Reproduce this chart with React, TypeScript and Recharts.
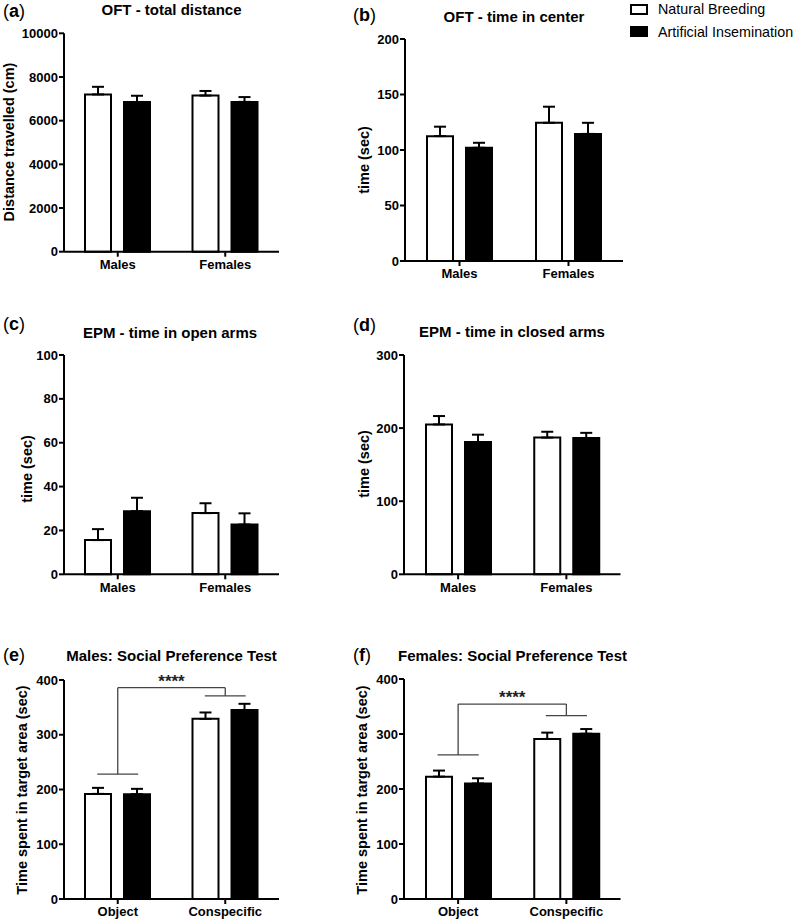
import React from "react"
import { Bar, BarChart, ErrorBar, ReferenceLine, XAxis, YAxis } from "recharts"

const groups = ["Natural Breeding", "Artificial Insemination"]
const sexes = ["Males", "Females"]
const zones = ["Object", "Conspecific"]

// (a) OFT - total distance (cm)
const distNB = [7200, 7150]
const distNBsem = [350, 210]
const distAI = [6850, 6860]
const distAIsem = [290, 220]
const distTicks = [0, 2000, 4000, 6000, 8000, 10000]

// (b) OFT - time in center (sec)
const centerNB = [112.5, 124.5]
const centerNBsem = [8.5, 14.5]
const centerAI = [102, 114.5]
const centerAIsem = [4.5, 10]
const centerTicks = [0, 50, 100, 150, 200]

// (c) EPM - time in open arms (sec)
const openNB = [15.6, 27.9]
const openNBsem = [5, 4.5]
const openAI = [28.8, 22.7]
const openAIsem = [6.1, 5.1]
const openTicks = [0, 20, 40, 60, 80, 100]

// (d) EPM - time in closed arms (sec)
const closedNB = [205, 187]
const closedNBsem = [11.5, 8]
const closedAI = [181, 186.5]
const closedAIsem = [10, 7]
const closedTicks = [0, 100, 200, 300]

// (e) males social preference (sec)
const spMaleNB = [192, 329]
const spMaleNBsem = [11, 11.7]
const spMaleAI = [191.5, 345]
const spMaleAIsem = [9.7, 11.5]

// (f) females social preference (sec)
const spFemNB = [222.5, 291]
const spFemNBsem = [11, 11.5]
const spFemAI = [210, 300.5]
const spFemAIsem = [9.5, 8.5]
const spTicks = [0, 100, 200, 300, 400]

// significance brackets: [object level, top, conspecific level]
const maleBracket = [228, 386, 371]
const femaleBracket = [262, 354.5, 333.5]
const stars = "****"

const font = '"Liberation Sans", Arial, Helvetica, sans-serif'
const W = 797
const H = 921

function rows(cats: string[], nb: number[], nbSem: number[], ai: number[], aiSem: number[]) {
  return cats.map((cat, i) => ({
    cat,
    nb: nb[i],
    nbErr: [0, nbSem[i]],
    ai: ai[i],
    aiErr: [0, aiSem[i]],
  }))
}

const panels = [
  {
    letter: "a", title: "OFT - total distance", yLabel: "Distance travelled (cm)",
    data: rows(sexes, distNB, distNBsem, distAI, distAIsem), ticks: distTicks,
    box: { l: 64, r: 279, t: 33.3, b: 251.7 }, titleAt: [171.5, 9], letterAt: [3, 11], yLabelAt: [9, 142],
  },
  {
    letter: "b", title: "OFT - time in center", yLabel: "time (sec)",
    data: rows(sexes, centerNB, centerNBsem, centerAI, centerAIsem), ticks: centerTicks,
    box: { l: 405, r: 623, t: 39, b: 261 }, titleAt: [514, 16], letterAt: [353, 15], yLabelAt: [364, 160],
  },
  {
    letter: "c", title: "EPM - time in open arms", yLabel: "time (sec)",
    data: rows(sexes, openNB, openNBsem, openAI, openAIsem), ticks: openTicks,
    box: { l: 64, r: 279, t: 355, b: 574.3 }, titleAt: [170, 332], letterAt: [3, 324], yLabelAt: [27, 469],
  },
  {
    letter: "d", title: "EPM - time in closed arms", yLabel: "time (sec)",
    data: rows(sexes, closedNB, closedNBsem, closedAI, closedAIsem), ticks: closedTicks,
    box: { l: 404, r: 620.5, t: 355, b: 574.3 }, titleAt: [512, 331], letterAt: [353, 325], yLabelAt: [364, 464],
  },
  {
    letter: "e", title: "Males: Social Preference Test", yLabel: "Time spent in target area (sec)",
    data: rows(zones, spMaleNB, spMaleNBsem, spMaleAI, spMaleAIsem), ticks: spTicks,
    box: { l: 64, r: 279, t: 680, b: 899 }, titleAt: [171.5, 655], letterAt: [3, 655], yLabelAt: [22, 790],
    bracket: maleBracket,
  },
  {
    letter: "f", title: "Females: Social Preference Test", yLabel: "Time spent in target area (sec)",
    data: rows(zones, spFemNB, spFemNBsem, spFemAI, spFemAIsem), ticks: spTicks,
    box: { l: 404, r: 620.5, t: 679, b: 899 }, titleAt: [512.5, 655], letterAt: [353, 655], yLabelAt: [362, 790],
    bracket: femaleBracket,
  },
]

const tickStyle = { fontSize: 13, fontWeight: 700, fill: "#000", fontFamily: font }
const axisStroke = { stroke: "#000", strokeWidth: 2 }
const bracketStroke = "#444"

// x given as a fraction of the plot width (two categories -> centres at 0.25 and 0.75)
function bracketSegments(b: number[]) {
  const [lo, top, hi] = b
  return [
    [{ x: 0.155, y: lo }, { x: 0.345, y: lo }],
    [{ x: 0.25, y: lo }, { x: 0.25, y: top }],
    [{ x: 0.25, y: top }, { x: 0.75, y: top }],
    [{ x: 0.75, y: top }, { x: 0.75, y: hi }],
    [{ x: 0.655, y: hi }, { x: 0.845, y: hi }],
  ]
}

function Panel({ p }: { p: (typeof panels)[number] }) {
  const { box } = p
  const yMax = p.ticks[p.ticks.length - 1]
  const [lx, ly] = p.yLabelAt
  return (
    <div style={{ position: "absolute", left: 0, top: 0 }}>
      <BarChart
        width={W}
        height={H}
        data={p.data}
        barSize={26}
        barGap={13}
        margin={{ left: box.l - 60, right: W - box.r, top: box.t, bottom: H - box.b - 20 }}
      >
        <XAxis
          dataKey="cat"
          height={20}
          tick={tickStyle}
          tickSize={5}
          tickMargin={3}
          tickLine={axisStroke}
          axisLine={axisStroke}
          interval={0}
        />
        <XAxis xAxisId="pos" type="number" domain={[0, 1]} allowDataOverflow hide />
        <YAxis
          width={60}
          domain={[0, yMax]}
          ticks={p.ticks}
          interval={0}
          tick={tickStyle}
          tickSize={5}
          tickMargin={1}
          tickLine={axisStroke}
          axisLine={axisStroke}
          label={() => (
            <text
              x={lx}
              y={ly}
              transform={`rotate(-90 ${lx} ${ly})`}
              textAnchor="middle"
              dominantBaseline="central"
              fontSize={14.5}
              fontWeight={700}
              fontFamily={font}
              fill="#000"
            >
              {p.yLabel}
            </text>
          )}
        />
        <Bar dataKey="nb" name={groups[0]} fill="#fff" stroke="#000" strokeWidth={2} isAnimationActive={false}>
          <ErrorBar dataKey="nbErr" width={6} stroke="#000" strokeWidth={2} direction="y" />
        </Bar>
        <Bar dataKey="ai" name={groups[1]} fill="#000" stroke="#000" strokeWidth={2} isAnimationActive={false}>
          <ErrorBar dataKey="aiErr" width={6} stroke="#000" strokeWidth={2} direction="y" />
        </Bar>
        {p.bracket &&
          bracketSegments(p.bracket).map((seg, i) => (
            <ReferenceLine
              key={i}
              xAxisId="pos"
              segment={seg}
              stroke={bracketStroke}
              strokeWidth={1.3}
              ifOverflow="visible"
              label={
                i === 2
                  ? { value: stars, position: "top", offset: 1, fill: "#222", fontSize: 17, fontWeight: 700, fontFamily: font }
                  : undefined
              }
            />
          ))}
      </BarChart>
    </div>
  )
}

function Overlay({ x, y, children, style }: any) {
  return (
    <div
      style={{
        position: "absolute",
        left: x,
        top: y,
        transform: "translate(-50%, -50%)",
        whiteSpace: "nowrap",
        lineHeight: 1,
        ...style,
      }}
    >
      {children}
    </div>
  )
}

export default function App() {
  return (
    <div style={{ position: "absolute", left: 0, top: 0, width: W, height: H, background: "#fff", fontFamily: font, color: "#000" }}>
      {panels.map((p) => (
        <Panel key={p.letter} p={p} />
      ))}
      {panels.map((p) => (
        <React.Fragment key={"t" + p.letter}>
          <Overlay x={p.titleAt[0]} y={p.titleAt[1]} style={{ fontSize: 15, fontWeight: 700 }}>
            {p.title}
          </Overlay>
          <div
            style={{
              position: "absolute",
              left: p.letterAt[0],
              top: p.letterAt[1],
              transform: "translateY(-50%)",
              fontSize: 18,
              lineHeight: 1,
              whiteSpace: "nowrap",
            }}
          >
            (<b>{p.letter}</b>)
          </div>
        </React.Fragment>
      ))}
      {groups.map((g, i) => (
        <div
          key={g}
          style={{
            position: "absolute",
            left: 630,
            top: i === 0 ? 1 : 23.5,
            display: "flex",
            alignItems: "center",
            fontSize: 14.3,
            lineHeight: "16px",
            whiteSpace: "nowrap",
          }}
        >
          <span
            style={{
              display: "inline-block",
              width: 18,
              height: 11,
              boxSizing: "border-box",
              border: "2px solid #000",
              background: i === 0 ? "#fff" : "#000",
              marginRight: 10,
            }}
          />
          {g}
        </div>
      ))}
    </div>
  )
}
